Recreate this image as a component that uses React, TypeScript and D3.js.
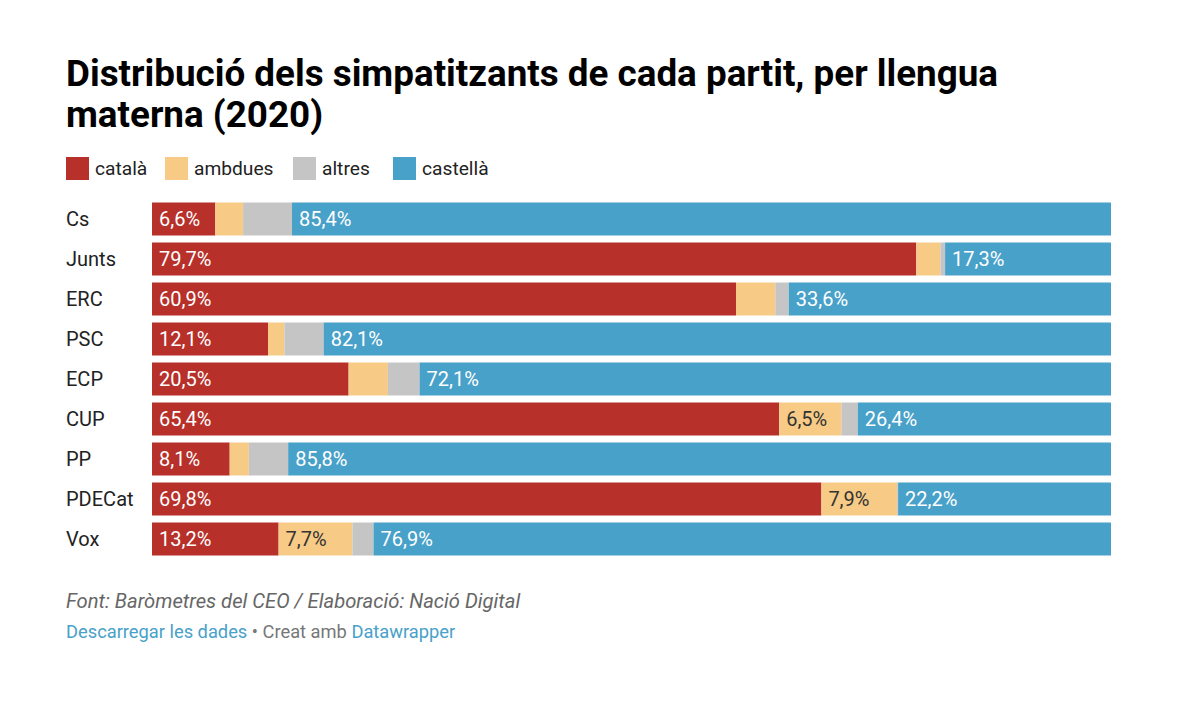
import React from "react";
import * as d3 from "d3";

const parties = ["Cs", "Junts", "ERC", "PSC", "ECP", "CUP", "PP", "PDECat", "Vox"];
const catala = [6.6, 79.7, 60.9, 12.1, 20.5, 65.4, 8.1, 69.8, 13.2];
const ambdues = [2.9, 2.5, 4.1, 1.7, 4.1, 6.5, 2.0, 7.9, 7.7];
const altres = [5.1, 0.5, 1.4, 4.1, 3.3, 1.7, 4.1, 0.1, 2.2];
const castella = [85.4, 17.3, 33.6, 82.1, 72.1, 26.4, 85.8, 22.2, 76.9];

const seriesNames = ["català", "ambdues", "altres", "castellà"];
const seriesColors = ["#b8302a", "#f7cb86", "#c5c5c5", "#48a1c9"];
const labelColors = ["#ffffff", "#333333", "#333333", "#ffffff"];

const W = 1200;
const H = 703;
const FONT = "Roboto, 'Noto Sans', sans-serif";

export default function App() {
  const keys = ["catala", "ambdues", "altres", "castella"];
  const rows = parties.map((p, i) => ({
    party: p,
    catala: catala[i],
    ambdues: ambdues[i],
    altres: altres[i],
    castella: castella[i],
  }));
  const stack = d3.stack<any>().keys(keys)(rows);
  const x = d3.scaleLinear().domain([0, 100]).range([152, 1111]);
  const y = d3.scaleBand().domain(parties).range([199, 559]).paddingInner(0.175).paddingOuter(0.0875);
  const fmt = (v: number) => v.toFixed(1).replace(".", ",") + "%";

  const legendX = [66, 165, 293, 393];

  return (
    <svg width={W} height={H} style={{ position: "absolute", left: 0, top: 0, background: "#fff" }} fontFamily={FONT}>
      <text x={66} y={86} fontSize={36.8} fontWeight={700} fill="#000">
        Distribució dels simpatitzants de cada partit, per llengua
      </text>
      <text x={66} y={127} fontSize={36.8} fontWeight={700} fill="#000">
        materna (2020)
      </text>
      {seriesNames.map((n, i) => (
        <g key={n}>
          <rect x={legendX[i]} y={157} width={23} height={23} fill={seriesColors[i]} />
          <text x={legendX[i] + 29} y={175} fontSize={19.2} fill="#222">
            {n}
          </text>
        </g>
      ))}
      {parties.map((p) => (
        <text key={p} x={66} y={(y(p) as number) + y.bandwidth() / 2 + 7} fontSize={20} fill="#222">
          {p}
        </text>
      ))}
      {stack.map((s, si) => (
        <g key={si} fill={seriesColors[si]}>
          {s.map((d, i) => (
            <rect
              key={i}
              x={x(d[0])}
              y={y(parties[i])}
              width={Math.max(0, x(d[1]) - x(d[0]))}
              height={y.bandwidth()}
            />
          ))}
        </g>
      ))}
      {stack.map((s, si) => (
        <g key={"l" + si}>
          {s.map((d, i) => {
            const v = d[1] - d[0];
            if (v < 5.5) return null;
            return (
              <text
                key={i}
                x={x(d[0]) + 7}
                y={(y(parties[i]) as number) + y.bandwidth() / 2 + 7}
                fontSize={20}
                fill={labelColors[si]}
              >
                {fmt(v)}
              </text>
            );
          })}
        </g>
      ))}
      <text x={66} y={608} fontSize={20.2} fontStyle="italic" fill="#666">
        Font: Baròmetres del CEO / Elaboració: Nació Digital
      </text>
      <text x={66} y={638} fontSize={18.3} fill="#777">
        <tspan fill="#48a1c9">Descarregar les dades</tspan>
        <tspan> • Creat amb </tspan>
        <tspan fill="#48a1c9">Datawrapper</tspan>
      </text>
    </svg>
  );
}
